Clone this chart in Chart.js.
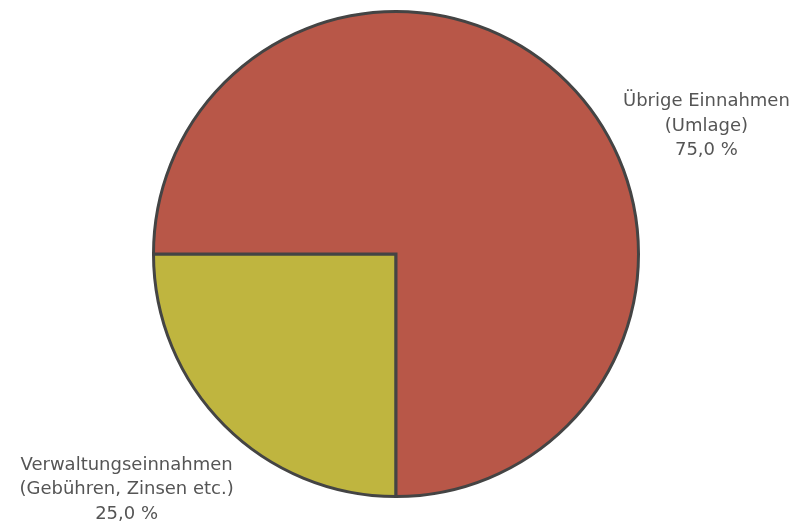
<!DOCTYPE html>
<html>
<head>
<meta charset="utf-8">
<script src="https://cdn.jsdelivr.net/npm/chart.js@4.4.0/dist/chart.umd.min.js"></script>
<style>
	html, body { margin: 0; padding: 0; background: #fff; }
	#wrap { width: 798px; height: 523px; }
</style>
</head>
<body>
<div id="wrap"><canvas id="canvas"></canvas></div>
<script>
var categories = ['Verwaltungseinnahmen\n(Gebühren, Zinsen etc.)', 'Übrige Einnahmen\n(Umlage)'];
var shares = [25.0, 75.0];
var colors = ['#BFB53F', '#B85748'];
// label anchor relative to pie centre, in units of the radius
var labelOffsets = [[-1.111, 0.971], [1.28, -0.527]];

var formatPct = function(v){
	return v.toFixed(1).replace('.', ',') + ' %';
};

var pieLabels = {
	id: 'pieLabels',
	afterDraw: function(chart){
		var ctx = chart.ctx;
		var meta = chart.getDatasetMeta(0);
		ctx.save();
		ctx.font = '18px "DejaVu Sans", Verdana, sans-serif';
		ctx.fillStyle = '#555555';
		ctx.textAlign = 'center';
		ctx.textBaseline = 'middle';
		meta.data.forEach(function(arc, i){
			var lines = categories[i].split('\n');
			lines.push(formatPct(shares[i]));
			var cx = arc.x + labelOffsets[i][0] * arc.outerRadius;
			var cy = arc.y + labelOffsets[i][1] * arc.outerRadius;
			var lh = 24.5;
			var top = cy - (lines.length - 1) * lh / 2;
			for(var k = 0; k < lines.length; k++){
				ctx.fillText(lines[k], cx, top + k * lh);
			}
		});
		ctx.restore();
	}
};

var ctx = document.getElementById('canvas').getContext('2d');
var myPie = new Chart(ctx, {
	type: 'pie',
	data: {
		labels: categories,
		datasets: [{
			data: shares,
			backgroundColor: colors,
			borderColor: '#444444',
			borderWidth: 3,
			borderJoinStyle: 'miter',
			hoverOffset: 0
		}]
	},
	options: {
		responsive: true,
		maintainAspectRatio: false,
		animation: false,
		rotation: 180,
		layout: {
			padding: { left: 152, right: 158, top: 10, bottom: 25 }
		},
		plugins: {
			legend: { display: false },
			tooltip: { enabled: false },
			title: { display: false }
		}
	},
	plugins: [pieLabels]
});
</script>
</body>
</html>
